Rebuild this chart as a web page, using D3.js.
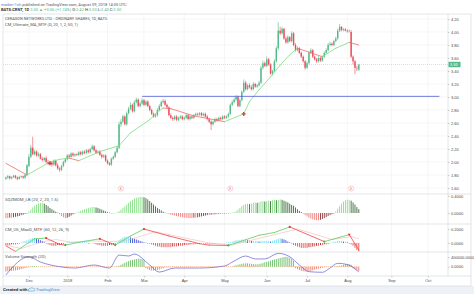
<!DOCTYPE html>
<html>
<head>
	<title>CRNT</title>
	<meta charset='utf-8'>
	<style>
		body { margin: 0; background: #fff; }
		svg { display: block; font-family: Roboto, 'Liberation Sans', sans-serif; }
		.axis text { fill: #4a4a4a; font-size: 4px; }
		.axis line { stroke: #a0a0a0; stroke-width: 0.5; }
		.axis path.domain { display: none; }
		.grid line { stroke: #f0f0f0; stroke-width: 0.6; }
		.pane-title { fill: #555; font-size: 4.3px; }
	</style>
</head>
<body>

<script src='https://d3js.org/d3.v7.min.js'></script>
<script>
	'use strict';

	// daily bars, Nov 14 2017 .. Aug 9 2018 (bar index)
	const opens = [
		1.74,1.76,1.78,1.75,1.77,1.79,1.76,1.74,1.77,1.78,
		1.76,1.80,1.94,2.08,2.22,2.12,2.16,2.10,2.12,2.05,
		2.03,2.06,2.00,1.97,1.99,1.96,2.02,1.95,1.90,1.88,
		1.94,2.00,2.04,2.10,2.08,2.13,2.10,2.12,2.11,2.15,
		2.12,2.16,2.14,2.18,2.15,2.20,2.24,2.18,2.14,2.16,
		2.11,2.08,2.10,2.02,1.98,1.96,2.05,2.08,2.15,2.22,
		2.58,2.62,2.70,2.58,2.75,2.82,2.88,2.78,2.92,2.96,
		2.86,2.90,2.95,2.88,2.93,2.86,2.80,2.74,2.70,2.72,
		2.80,2.86,2.92,2.94,2.88,2.84,2.72,2.68,2.66,2.70,
		2.65,2.68,2.70,2.66,2.68,2.72,2.66,2.70,2.68,2.72,
		2.74,2.73,2.75,2.72,2.74,2.70,2.66,2.62,2.58,2.62,
		2.66,2.64,2.68,2.66,2.70,2.68,2.70,2.74,2.88,2.92,
		2.96,3.00,2.86,2.95,3.08,3.22,3.12,3.18,3.15,3.12,
		3.20,3.16,3.18,3.22,3.45,3.52,3.48,3.58,3.50,3.36,
		3.40,3.55,3.75,4.02,3.98,4.05,3.90,3.84,3.92,3.86,
		3.98,3.80,3.72,3.75,3.68,3.62,3.55,3.45,3.52,3.68,
		3.72,3.62,3.58,3.55,3.60,3.56,3.62,3.68,3.72,3.80,
		3.82,3.80,3.86,3.90,4.02,4.08,4.03,4.04,4.02,4.01,
		4.00,3.62,3.55,3.45,3.42
	];
	const highs = [
		1.78,1.80,1.79,1.78,1.80,1.80,1.78,1.79,1.79,1.79,
		1.82,1.97,2.12,2.26,2.39,2.19,2.18,2.15,2.14,2.08,
		2.08,2.09,2.03,2.01,2.01,2.04,2.04,1.98,1.92,1.96,
		2.02,2.06,2.12,2.12,2.15,2.15,2.13,2.14,2.17,2.17,
		2.18,2.18,2.20,2.20,2.22,2.27,2.26,2.20,2.18,2.18,
		2.13,2.12,2.12,2.04,2.00,2.07,2.10,2.17,2.25,2.62,
		2.66,2.73,2.72,2.78,2.85,2.92,2.90,2.95,2.99,2.98,
		2.93,2.98,2.97,2.95,2.95,2.88,2.82,2.76,2.75,2.83,
		2.89,2.95,2.97,2.96,2.90,2.86,2.75,2.70,2.72,2.72,
		2.70,2.72,2.72,2.70,2.74,2.74,2.72,2.72,2.74,2.76,
		2.76,2.77,2.77,2.76,2.76,2.72,2.68,2.64,2.64,2.68,
		2.68,2.70,2.70,2.72,2.72,2.72,2.76,2.90,2.95,2.99,
		3.03,3.02,2.98,3.10,3.27,3.25,3.20,3.21,3.18,3.23,
		3.22,3.20,3.25,3.48,3.56,3.55,3.62,3.60,3.52,3.42,
		3.58,3.78,4.15,4.08,4.08,4.06,3.93,3.95,3.94,4.01,
		4.00,3.83,3.78,3.77,3.70,3.64,3.57,3.55,3.70,3.75,
		3.74,3.64,3.60,3.63,3.62,3.64,3.70,3.75,3.83,3.85,
		3.84,3.88,3.93,4.05,4.12,4.09,4.06,4.06,4.04,4.04,
		4.03,3.64,3.57,3.48,3.50
	];
	const lows = [
		1.72,1.74,1.73,1.73,1.75,1.74,1.72,1.73,1.75,1.74,
		1.74,1.78,1.92,2.06,2.10,2.10,2.08,2.08,2.04,2.01,
		2.01,1.98,1.95,1.95,1.93,1.94,1.93,1.88,1.85,1.86,
		1.92,1.98,2.02,2.05,2.06,2.08,2.08,2.09,2.09,2.10,
		2.10,2.12,2.12,2.13,2.13,2.18,2.16,2.12,2.12,2.09,
		2.05,2.06,2.00,1.96,1.94,1.94,2.03,2.06,2.13,2.20,
		2.54,2.60,2.56,2.56,2.73,2.80,2.76,2.76,2.90,2.84,
		2.84,2.88,2.86,2.86,2.84,2.78,2.72,2.68,2.68,2.70,
		2.78,2.84,2.90,2.86,2.82,2.70,2.66,2.63,2.64,2.63,
		2.63,2.66,2.64,2.64,2.66,2.64,2.64,2.66,2.66,2.70,
		2.71,2.71,2.70,2.70,2.68,2.64,2.60,2.49,2.56,2.60,
		2.62,2.62,2.64,2.64,2.66,2.66,2.68,2.72,2.86,2.90,
		2.94,2.84,2.84,2.93,3.06,3.10,3.10,3.13,3.10,3.10,
		3.14,3.14,3.16,3.20,3.42,3.46,3.46,3.48,3.34,3.33,
		3.38,3.53,3.72,3.95,3.96,3.88,3.82,3.82,3.84,3.84,
		3.78,3.70,3.70,3.66,3.60,3.53,3.42,3.43,3.50,3.66,
		3.60,3.56,3.52,3.53,3.54,3.54,3.60,3.66,3.70,3.78,
		3.78,3.78,3.84,3.88,4.00,4.01,4.01,4.01,3.99,3.99,
		3.60,3.50,3.35,3.40,3.40
	];
	const closes = [
		1.76,1.78,1.75,1.77,1.79,1.76,1.74,1.77,1.78,1.76,
		1.80,1.95,2.08,2.22,2.12,2.16,2.10,2.12,2.05,2.03,
		2.06,2.00,1.97,1.99,1.96,2.02,1.95,1.90,1.88,1.94,
		2.00,2.04,2.10,2.08,2.13,2.10,2.12,2.11,2.15,2.12,
		2.16,2.14,2.18,2.15,2.20,2.24,2.18,2.14,2.16,2.11,
		2.08,2.10,2.02,1.98,1.96,2.05,2.08,2.15,2.22,2.58,
		2.62,2.70,2.58,2.75,2.82,2.88,2.78,2.92,2.96,2.86,
		2.90,2.95,2.88,2.93,2.86,2.80,2.74,2.70,2.72,2.80,
		2.86,2.92,2.94,2.88,2.84,2.72,2.68,2.66,2.70,2.65,
		2.68,2.70,2.66,2.68,2.72,2.66,2.70,2.68,2.72,2.74,
		2.73,2.75,2.72,2.74,2.70,2.66,2.62,2.58,2.62,2.66,
		2.64,2.68,2.66,2.70,2.68,2.70,2.74,2.88,2.92,2.96,
		3.00,2.86,2.95,3.08,3.22,3.12,3.18,3.15,3.12,3.20,
		3.16,3.18,3.22,3.45,3.52,3.48,3.58,3.50,3.36,3.40,
		3.55,3.75,4.02,3.98,4.05,3.90,3.84,3.92,3.86,3.98,
		3.80,3.72,3.75,3.68,3.62,3.55,3.45,3.52,3.68,3.72,
		3.62,3.58,3.55,3.60,3.56,3.62,3.68,3.72,3.80,3.82,
		3.80,3.86,3.90,4.02,4.08,4.03,4.04,4.02,4.01,4.02,
		3.62,3.55,3.45,3.44,3.50
	];

	// CM_Ultimate_MA_MTF, read at bar positions
	const maBars = [0, 11, 23, 28, 33, 38, 49, 59, 65, 75, 79, 82, 86, 98, 114, 124, 127, 132, 138, 143, 148, 152, 158, 165, 172, 179, 184];
	const maValues = [1.98, 1.80, 2.00, 2.04, 2.06, 2.02, 2.16, 2.25, 2.45, 2.65, 2.77, 2.83, 2.82, 2.71, 2.62, 2.74, 2.93, 3.11, 3.31, 3.49, 3.65, 3.75, 3.69, 3.62, 3.75, 3.84, 3.80];
	const maCrossBars = [23, 124];
	const maCrossValues = [1.98, 2.74];

	const levelPrice = 3.01;
	const levelFrom = 71;
	const levelTo = 226;
	const eventBars = [60, 117, 180];

	// SQZMOM_LB histogram
	const sqzValues = [
		-0.12,-0.12,-0.11,-0.11,-0.10,-0.09,-0.08,-0.07,-0.05,-0.04,
		-0.02,-0.01,0.03,0.08,0.13,0.17,0.20,0.22,0.24,0.24,
		0.22,0.19,0.16,0.12,0.09,0.06,0.03,0.01,-0.03,-0.07,
		-0.10,-0.12,-0.11,-0.09,-0.06,-0.03,-0.01,0.01,0.03,0.05,
		0.07,0.09,0.10,0.12,0.13,0.14,0.14,0.13,0.12,0.10,
		0.08,0.06,0.04,0.02,0.01,-0.01,-0.01,0.00,0.02,0.04,
		0.08,0.12,0.16,0.20,0.24,0.28,0.31,0.34,0.36,0.37,
		0.38,0.38,0.37,0.35,0.32,0.28,0.24,0.20,0.16,0.12,
		0.09,0.06,0.03,0.01,-0.01,-0.02,-0.04,-0.05,-0.06,-0.07,
		-0.08,-0.09,-0.10,-0.11,-0.11,-0.12,-0.12,-0.12,-0.11,-0.11,
		-0.10,-0.09,-0.08,-0.07,-0.06,-0.05,-0.05,-0.04,-0.04,-0.03,
		-0.03,-0.02,-0.02,-0.02,-0.01,-0.01,-0.01,0.00,0.01,0.02,
		0.04,0.08,0.12,0.16,0.19,0.21,0.22,0.21,0.22,0.24,
		0.25,0.24,0.25,0.27,0.28,0.27,0.28,0.29,0.28,0.30,
		0.31,0.30,0.31,0.32,0.31,0.29,0.27,0.25,0.22,0.19,
		0.17,0.13,0.09,0.05,0.02,-0.02,-0.05,-0.08,-0.11,-0.13,
		-0.15,-0.16,-0.17,-0.17,-0.16,-0.14,-0.12,-0.10,-0.07,-0.05,
		-0.03,-0.01,0.04,0.10,0.16,0.22,0.27,0.30,0.31,0.31,
		0.29,0.25,0.20,0.14,0.09
	];

	// CM_Ult_MacD_MTF
	const macdHist = [
		-0.03,-0.03,-0.03,-0.02,-0.02,-0.02,-0.01,-0.01,0.01,0.02,
		0.03,0.04,0.05,0.06,0.07,0.07,0.06,0.05,0.04,0.03,
		0.01,-0.01,-0.02,-0.03,-0.04,-0.04,-0.04,-0.03,-0.03,-0.02,
		-0.01,0.00,0.01,0.02,0.02,0.02,0.02,0.02,0.01,0.01,
		0.01,0.01,0.01,0.00,0.00,0.00,-0.01,-0.02,-0.03,-0.03,
		-0.04,-0.04,-0.04,-0.04,-0.03,-0.03,-0.02,-0.01,0.01,0.04,
		0.06,0.08,0.09,0.09,0.09,0.08,0.07,0.06,0.05,0.04,
		0.03,0.02,0.01,0.01,0.00,-0.01,-0.02,-0.03,-0.04,-0.05,
		-0.05,-0.06,-0.06,-0.06,-0.06,-0.06,-0.06,-0.05,-0.05,-0.05,
		-0.04,-0.04,-0.04,-0.03,-0.03,-0.03,-0.02,-0.02,-0.02,-0.01,
		-0.01,-0.01,0.00,0.00,-0.01,-0.01,-0.01,-0.01,-0.01,-0.01,
		0.00,0.00,0.00,0.00,0.00,0.01,0.01,0.01,0.02,0.03,
		0.04,0.04,0.04,0.05,0.05,0.05,0.04,0.04,0.03,0.03,
		0.03,0.03,0.02,0.03,0.03,0.03,0.03,0.03,0.02,0.03,
		0.04,0.05,0.06,0.07,0.06,0.05,0.04,0.02,0.01,-0.01,
		-0.03,-0.04,-0.05,-0.06,-0.07,-0.07,-0.07,-0.07,-0.06,-0.06,
		-0.05,-0.05,-0.04,-0.04,-0.03,-0.03,-0.02,-0.02,-0.01,0.00,
		0.01,0.02,0.02,0.03,0.03,0.03,0.02,0.02,0.01,0.00,
		-0.02,-0.04,-0.07,-0.10,-0.12
	];
	const macdBars = [0, 5, 15, 21, 28, 31, 40, 49, 57, 65, 72, 85, 101, 106, 116, 132, 140, 148, 166, 179, 184];
	const macdValues = [-0.04, -0.12, 0.06, 0.07, -0.02, -0.03, 0.02, 0.06, -0.03, 0.10, 0.20, 0.10, -0.01, -0.03, -0.035, 0.11, 0.15, 0.23, 0.02, 0.12, -0.10];
	const signalBars = [0, 8, 18, 26, 34, 46, 54, 62, 78, 92, 106, 118, 134, 152, 170, 180, 184];
	const signalValues = [-0.03, -0.08, 0.01, 0.05, 0.01, 0.03, 0.02, 0.03, 0.16, 0.08, 0.00, -0.03, 0.08, 0.20, 0.05, 0.09, 0.06];
	const macdPeakBars = [21, 49, 72, 148, 179];
	const macdTroughBars = [31, 57, 116, 166];

	// Volume Strength (thousands)
	const volHist = [
		-200,-190,-180,-170,-160,-150,-140,-120,-100,-80,
		-60,-40,10,20,30,30,20,10,10,5,
		-5,-5,-10,-10,-5,5,5,5,-5,-10,
		-10,-15,-15,-10,-10,-5,-5,-10,-10,-5,
		-5,-10,-10,-5,-5,-10,-10,-15,-15,-10,
		-10,-10,-5,-5,-10,-10,-5,10,20,40,
		80,120,160,200,230,260,280,300,320,330,
		330,310,270,-60,-100,-140,-160,-160,-150,-130,
		-110,-80,-60,-30,-30,-25,-25,-20,-20,-20,
		-20,-15,-15,-15,-20,-20,-15,-15,-10,-10,
		-10,-10,-15,-15,-10,-10,-10,-10,-10,-10,
		-5,-5,-5,-5,-5,-10,-10,-10,-10,40,
		60,80,100,120,130,140,140,130,120,110,
		100,100,110,130,150,180,200,220,250,280,
		300,320,340,360,380,400,410,400,370,320,
		250,-60,-100,-140,-170,-190,-200,-200,-190,-170,
		-150,-120,-100,-80,-60,-40,-20,-10,-10,5,
		10,10,20,30,40,50,80,100,110,100,
		80,-60,-100,-140,-180
	];
	const volBars = [0, 12, 18, 28, 36, 46, 54, 59, 64, 67, 75, 80, 88, 101, 114, 119, 125, 130, 135, 142, 148, 153, 158, 165, 169, 173, 178, 184];
	const volValues = [-340, 410, 195, 0, -55, 70, -55, 480, 440, 520, 70, -220, -55, -55, 30, 235, 440, 320, 320, 550, 410, 70, -205, -230, -55, 140, 90, -220];

	const monthBars = [12, 32, 53, 72, 93, 114, 136, 157, 178, 201, 220];
	const monthLabels = ['Dec', '2018', 'Feb', 'Mar', 'Apr', 'May', 'Jun', 'Jul', 'Aug', 'Sep', 'Oct'];
	const priceTicks = [1.6, 1.8, 2.0, 2.2, 2.4, 2.6, 2.8, 3.0, 3.2, 3.4, 3.6, 3.8, 4.0, 4.2];

	const width = 474, height = 294;
	const plotLeft = 3, plotRight = 448, frameRight = 471;
	const panes = {price: [14, 194], sqz: [194, 224], macd: [224, 252], vol: [252, 276]};
	const up = '#53b987', down = '#eb4d5c';

	const x = d3.scaleLinear().domain([-1.5, 230.5]).range([plotLeft, plotRight]);
	const yPrice = d3.scaleLinear().domain([1.6, 4.2]).range([188, 19]);
	const ySqz = d3.scaleLinear().domain([0, 0.4]).range([213, 196]);
	const yMacd = d3.scaleLinear().domain([0, 0.2]).range([243, 229]);
	const yVol = d3.scaleLinear().domain([0, 400]).range([266.7, 257]);

	const svg = d3.select('body').append('svg')
		.attr('width', width)
		.attr('height', height);

	// clip per pane
	const defs = svg.append('defs');
	Object.keys(panes).forEach(function(k) {
		defs.append('clipPath').attr('id', 'clip-' + k)
			.append('rect')
			.attr('x', plotLeft).attr('y', panes[k][0])
			.attr('width', plotRight - plotLeft).attr('height', panes[k][1] - panes[k][0]);
	});

	// footer band
	svg.append('rect').attr('x', 0).attr('y', 286).attr('width', width).attr('height', 8).attr('fill', '#eef1f6');

	// grid
	const grid = svg.append('g').attr('class', 'grid');
	grid.selectAll('line.h').data(priceTicks).join('line')
		.attr('class', 'h')
		.attr('x1', plotLeft).attr('x2', plotRight)
		.attr('y1', d => yPrice(d)).attr('y2', d => yPrice(d));
	grid.selectAll('line.v').data(monthBars).join('line')
		.attr('class', 'v')
		.attr('x1', d => x(d)).attr('x2', d => x(d))
		.attr('y1', panes.price[0]).attr('y2', panes.vol[1]);

	// ---- price pane
	const gPrice = svg.append('g').attr('clip-path', 'url(#clip-price)');
	const bars = d3.range(closes.length);

	gPrice.append('line')
		.attr('x1', plotLeft).attr('x2', plotRight)
		.attr('y1', yPrice(closes[closes.length - 1])).attr('y2', yPrice(closes[closes.length - 1]))
		.attr('stroke', up).attr('stroke-width', 0.5).attr('stroke-dasharray', '1,1').attr('opacity', 0.6);

	const candleColor = i => closes[i] >= opens[i] ? up : down;
	gPrice.selectAll('line.wick').data(bars).join('line')
		.attr('class', 'wick')
		.attr('x1', i => x(i)).attr('x2', i => x(i))
		.attr('y1', i => yPrice(highs[i])).attr('y2', i => yPrice(lows[i]))
		.attr('stroke', candleColor).attr('stroke-width', 0.6);
	gPrice.selectAll('rect.body').data(bars).join('rect')
		.attr('class', 'body')
		.attr('x', i => x(i) - 0.7).attr('width', 1.4)
		.attr('y', i => yPrice(Math.max(opens[i], closes[i])))
		.attr('height', i => Math.max(0.6, Math.abs(yPrice(opens[i]) - yPrice(closes[i]))))
		.attr('fill', candleColor);

	// moving average, green rising / red falling
	const maPts = maBars.map((b, k) => [b, maValues[k]]);
	gPrice.selectAll('line.ma').data(d3.pairs(maPts)).join('line')
		.attr('class', 'ma')
		.attr('x1', d => x(d[0][0])).attr('y1', d => yPrice(d[0][1]))
		.attr('x2', d => x(d[1][0])).attr('y2', d => yPrice(d[1][1]))
		.attr('stroke', d => d[1][1] >= d[0][1] ? '#7ddc7d' : '#f06a6a')
		.attr('stroke-width', 0.8).attr('stroke-linecap', 'round');

	gPrice.selectAll('path.cross').data(maCrossBars).join('path')
		.attr('class', 'cross')
		.attr('transform', (d, k) => 'translate(' + x(d) + ',' + yPrice(maCrossValues[k]) + ')')
		.attr('d', d3.symbol().type(d3.symbolCross).size(9))
		.attr('fill', '#e53935');

	// horizontal level
	gPrice.append('line')
		.attr('x1', x(levelFrom)).attr('x2', x(levelTo))
		.attr('y1', yPrice(levelPrice)).attr('y2', yPrice(levelPrice))
		.attr('stroke', '#4b5bd6').attr('stroke-width', 0.8);

	// earnings markers
	const ev = svg.append('g').selectAll('g').data(eventBars).join('g')
		.attr('transform', d => 'translate(' + x(d) + ',188.5)');
	ev.append('circle').attr('r', 2.6).attr('fill', '#fff').attr('stroke', '#f3a3ab').attr('stroke-width', 0.5);
	ev.append('text').attr('text-anchor', 'middle').attr('dy', 1.2).attr('font-size', 3.4).attr('fill', '#e57373').text('E');

	svg.append('text').attr('class', 'pane-title').attr('x', 5).attr('y', 20)
		.attr('textLength', 102).attr('lengthAdjust', 'spacingAndGlyphs')
		.text('CERAGON NETWORKS LTD. - ORDINARY SHARES, 1D, BATS');
	svg.append('text').attr('class', 'pane-title').attr('x', 5).attr('y', 25.6)
		.attr('textLength', 73).attr('lengthAdjust', 'spacingAndGlyphs')
		.text('CM_Ultimate_MA_MTF (D, 20, 1, 2, 50, 1)');

	// ---- squeeze momentum
	const gSqz = svg.append('g').attr('clip-path', 'url(#clip-sqz)');
	const sqzColor = i => {
		const v = sqzValues[i], p = i > 0 ? sqzValues[i - 1] : v;
		if (v >= 0) return v >= p ? '#88e088' : '#3d6b3d';
		return v <= p ? '#f27d7d' : '#8c3a3a';
	};
	gSqz.selectAll('rect').data(bars).join('rect')
		.attr('x', i => x(i) - 0.45).attr('width', 0.9)
		.attr('y', i => Math.min(ySqz(sqzValues[i]), ySqz(0)))
		.attr('height', i => Math.max(0.5, Math.abs(ySqz(sqzValues[i]) - ySqz(0))))
		.attr('fill', sqzColor);
	svg.append('text').attr('class', 'pane-title').attr('x', 5).attr('y', 201)
		.text('SQZMOM_LB (20, 2, 20, 1.5)');

	// ---- macd
	const gMacd = svg.append('g').attr('clip-path', 'url(#clip-macd)');
	const macdColor = i => {
		const v = macdHist[i], p = i > 0 ? macdHist[i - 1] : v;
		if (v >= 0) return v >= p ? '#72e0ef' : '#3f51d8';
		return v <= p ? '#f05252' : '#9c2f2f';
	};
	gMacd.selectAll('rect').data(bars).join('rect')
		.attr('x', i => x(i) - 0.45).attr('width', 0.9)
		.attr('y', i => Math.min(yMacd(macdHist[i]), yMacd(0)))
		.attr('height', i => Math.max(0.5, Math.abs(yMacd(macdHist[i]) - yMacd(0))))
		.attr('fill', macdColor);
	gMacd.append('path')
		.attr('d', d3.line().x(d => x(d[0])).y(d => yMacd(d[1]))(signalBars.map((b, k) => [b, signalValues[k]])))
		.attr('fill', 'none').attr('stroke', '#f4b6b6').attr('stroke-width', 0.6);
	const macdPts = macdBars.map((b, k) => [b, macdValues[k]]);
	gMacd.selectAll('line.m').data(d3.pairs(macdPts)).join('line')
		.attr('class', 'm')
		.attr('x1', d => x(d[0][0])).attr('y1', d => yMacd(d[0][1]))
		.attr('x2', d => x(d[1][0])).attr('y2', d => yMacd(d[1][1]))
		.attr('stroke', d => d[1][1] >= d[0][1] ? '#5ccc5c' : '#ef4444')
		.attr('stroke-width', 0.8).attr('stroke-linecap', 'round');
	const macdAt = b => macdValues[macdBars.indexOf(b)];
	gMacd.selectAll('circle.pk').data(macdPeakBars).join('circle')
		.attr('class', 'pk').attr('cx', d => x(d)).attr('cy', d => yMacd(macdAt(d))).attr('r', 1.1).attr('fill', '#e53935');
	gMacd.selectAll('circle.tr').data(macdTroughBars).join('circle')
		.attr('class', 'tr').attr('cx', d => x(d)).attr('cy', d => yMacd(macdAt(d))).attr('r', 1.1).attr('fill', '#4caf50');
	svg.append('text').attr('class', 'pane-title').attr('x', 5).attr('y', 230.5)
		.text('CM_Ult_MacD_MTF (60, 12, 26, 9)');

	// ---- volume strength
	const gVol = svg.append('g').attr('clip-path', 'url(#clip-vol)');
	gVol.append('line')
		.attr('x1', x(0)).attr('x2', x(closes.length - 1))
		.attr('y1', yVol(0)).attr('y2', yVol(0))
		.attr('stroke', '#f5a25d').attr('stroke-width', 0.6).attr('stroke-dasharray', '1,1');
	gVol.selectAll('rect').data(bars).join('rect')
		.attr('x', i => x(i) - 0.45).attr('width', 0.9)
		.attr('y', i => Math.min(yVol(volHist[i]), yVol(0)))
		.attr('height', i => Math.abs(yVol(volHist[i]) - yVol(0)))
		.attr('fill', i => volHist[i] >= 0 ? '#6cbf6c' : '#f07a7a');
	gVol.append('path')
		.attr('d', d3.line().x(d => x(d[0])).y(d => yVol(d[1])).curve(d3.curveMonotoneX)(volBars.map((b, k) => [b, volValues[k]])))
		.attr('fill', 'none').attr('stroke', '#5b5fd6').attr('stroke-width', 0.7);
	svg.append('text').attr('class', 'pane-title').attr('x', 5).attr('y', 258)
		.text('Volume Strength (20)');

	// ---- frame and separators
	const frame = svg.append('g').attr('stroke', '#cfd3d8').attr('stroke-width', 0.6).attr('fill', 'none');
	frame.append('rect').attr('x', plotLeft).attr('y', 14).attr('width', frameRight - plotLeft).attr('height', 272);
	[194, 224, 252, 276].forEach(function(yy) {
		frame.append('line').attr('x1', plotLeft).attr('x2', frameRight).attr('y1', yy).attr('y2', yy);
	});
	frame.append('line').attr('x1', plotRight).attr('x2', plotRight).attr('y1', 14).attr('y2', 276);

	// ---- axes
	svg.append('g').attr('class', 'axis').attr('transform', 'translate(' + plotRight + ',0)')
		.call(d3.axisRight(yPrice).tickValues(priceTicks).tickSize(1.5).tickPadding(1.5).tickFormat(d3.format('.2f')));
	svg.append('g').attr('class', 'axis').attr('transform', 'translate(' + plotRight + ',0)')
		.call(d3.axisRight(ySqz).tickValues([0, 0.4]).tickSize(1.5).tickPadding(1.5).tickFormat(d3.format('.4f')));
	svg.append('g').attr('class', 'axis').attr('transform', 'translate(' + plotRight + ',0)')
		.call(d3.axisRight(yMacd).tickValues([0, 0.2]).tickSize(1.5).tickPadding(1.5).tickFormat(d3.format('.4f')));
	svg.append('g').attr('class', 'axis').attr('transform', 'translate(' + plotRight + ',0)')
		.call(d3.axisRight(yVol).tickValues([0, 400]).tickSize(1.5).tickPadding(1.5).tickFormat(d => (d * 1000).toFixed(4)));
	svg.append('g').attr('class', 'axis').attr('transform', 'translate(0,276)')
		.call(d3.axisBottom(x).tickValues(monthBars).tickSize(1.5).tickPadding(2).tickFormat((d, k) => monthLabels[k]));

	// last price tag
	const lastY = yPrice(closes[closes.length - 1]);
	svg.append('rect').attr('x', plotRight + 0.5).attr('y', lastY - 2.7).attr('width', 12).attr('height', 5.4).attr('fill', up);
	svg.append('text').attr('x', plotRight + 2).attr('y', lastY + 1.4).attr('font-size', 4).attr('fill', '#fff')
		.text(d3.format('.2f')(closes[closes.length - 1]));

	// ---- header
	const h1 = svg.append('text').attr('x', 1).attr('y', 5.5).attr('font-size', 4.0).attr('fill', '#555');
	h1.append('tspan').attr('fill', '#3b7ddd').text('marker-1ch');
	h1.append('tspan').text(' published on TradingView.com, August 09, 2018 14:05 UTC');
	const h2 = svg.append('text').attr('x', 1).attr('y', 11).attr('font-size', 4.05).attr('fill', '#333');
	h2.append('tspan').attr('font-weight', 'bold').text('BATS:CRNT, 1D');
	h2.append('tspan').attr('fill', up).text(' 3.50 \u25B2 +0.06 (+1.74%)');
	[['O', '3.42'], ['H', '3.50'], ['L', '3.40'], ['C', '3.50']].forEach(function(p) {
		h2.append('tspan').text(' ' + p[0] + ':');
		h2.append('tspan').attr('fill', up).text(p[1]);
	});

	// ---- footer
	svg.append('text').attr('x', 3).attr('y', 291).attr('font-size', 4.3).attr('font-weight', 'bold').attr('fill', '#333').text('Created with');
	svg.append('path').attr('d', 'M28,291 q0,-2.6 2.4,-2.6 q1.4,-1.4 3,0 q1.6,0 1.6,1.4 q0,1.2 -1.4,1.2 z')
		.attr('fill', 'none').attr('stroke', '#2f8fdd').attr('stroke-width', 0.5);
	svg.append('text').attr('x', 36).attr('y', 291).attr('font-size', 4.3).attr('fill', '#2f8fdd').text('TradingView');
</script>
</body>
</html>
